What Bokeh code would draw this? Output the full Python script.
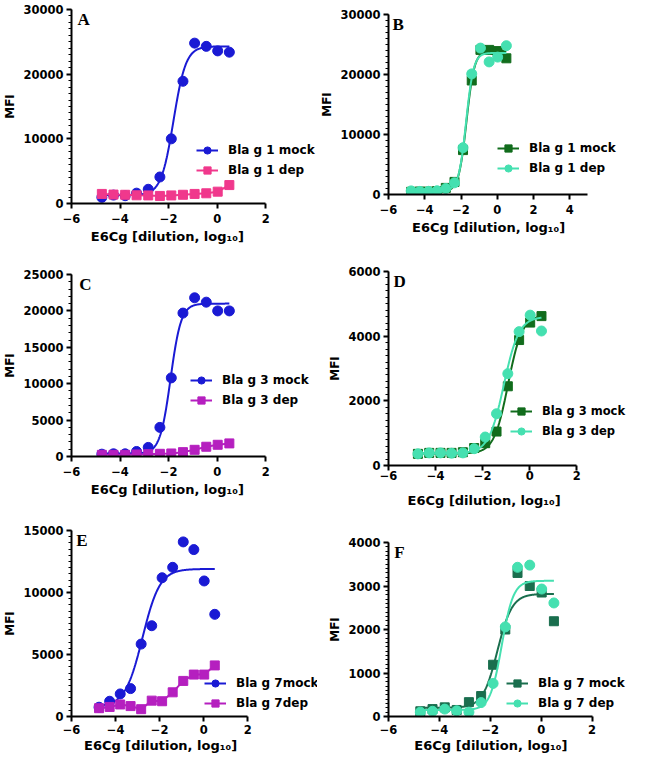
from bokeh.plotting import figure
from bokeh.layouts import row, column
from bokeh.models import Range1d, SingleIntervalTicker, Legend, LegendItem, Label
from bokeh.embed import file_html
from bokeh.resources import INLINE
import numpy as np

# ---------------- data ----------------
x_dil = [-4.75, -4.27, -3.79, -3.32, -2.84, -2.36, -1.89, -1.41, -0.93, -0.45, 0.02, 0.50]

a_mock = [950, 1300, 1200, 1600, 2200, 4100, 10000, 18900, 24800, 24300, 23600, 23400]
a_dep = [1480, 1380, 1350, 1270, 1250, 1170, 1250, 1350, 1480, 1580, 1830, 2850]
b_mock = [450, 500, 480, 560, 1100, 2100, 7400, 19000, 24100, 24100, 23900, 22700]
b_dep = [600, 520, 530, 620, 1000, 1950, 7800, 20100, 24400, 22100, 22900, 24800]
c_mock = [320, 370, 370, 690, 1250, 4000, 10800, 19700, 21800, 21200, 20000, 20000]
c_dep = [230, 230, 230, 280, 320, 370, 415, 600, 920, 1340, 1610, 1800]
d_mock = [360, 390, 390, 390, 410, 540, 690, 1050, 2450, 3880, 4420, 4620]
d_dep = [360, 390, 390, 380, 390, 520, 880, 1600, 2840, 4140, 4650, 4160]
e_mock = [750, 1230, 1820, 2250, 5840, 7320, 11190, 12030, 14080, 13460, 10930, 8240]
e_dep = [670, 770, 970, 840, 590, 1280, 1230, 1950, 2870, 3380, 3380, 4120]
f_mock = [120, 170, 210, 150, 330, 470, 1190, 2000, 3300, 3000, 2850, 2190]
f_dep = [100, 120, 170, 130, 100, 320, 760, 2060, 3430, 3480, 2930, 2610]

# fitted 4-parameter logistic curves: bottom, top, logEC50, hill slope
fit_a_mock = [1300, 24300, -1.80, 1.7]
fit_b_mock = [500, 23900, -1.70, 2.0]
fit_b_dep = [650, 23600, -1.72, 2.1]
fit_c_mock = [400, 21000, -1.92, 2.0]
fit_d_mock = [370, 4650, -0.92, 1.45]
fit_d_dep = [380, 4600, -1.10, 1.35]
fit_e_mock = [800, 11900, -2.78, 1.1]
fit_f_mock = [200, 2820, -1.72, 1.5]
fit_f_dep = [150, 3120, -1.55, 1.9]

labels_a = ["Bla g 1 mock", "Bla g 1 dep"]
labels_b = ["Bla g 1 mock", "Bla g 1 dep"]
labels_c = ["Bla g 3 mock", "Bla g 3 dep"]
labels_d = ["Bla g 3 mock", "Bla g 3 dep"]
labels_e = ["Bla g 7mock", "Bla g 7dep"]
labels_f = ["Bla g 7 mock", "Bla g 7 dep"]

x_title = "E6Cg [dilution, log\u2081\u2080]"
y_title = "MFI"

BLUE = "#1a1ad4"
PINK = "#f0388c"
PURPLE = "#b51fbf"
DKGREEN = "#116c1c"
LTGREEN = "#45e0b0"
TEAL = "#1a6e4e"

FONT = "DejaVu Sans"
NBSP = "\u00a0"


def four_pl(p, xs):
    b, t, l, h = p
    return b + (t - b) / (1.0 + 10 ** ((l - xs) * h))


def make_panel(letter, letter_x, w, h, xr, xbounds, yr, yint, nminor, top,
               mock, dep, fits, colors, markers, labels, legend_loc,
               pad, standoffs, legend_size="12px"):
    p = figure(width=w, height=h, x_range=Range1d(*xr), y_range=Range1d(*yr),
               output_backend="svg", toolbar_location=None,
               min_border_top=top, min_border_right=0,
               min_border_bottom=10, min_border_left=0)
    p.outline_line_color = None
    p.grid.visible = False
    p.background_fill_color = "white"
    p.border_fill_color = "white"

    p.xaxis.ticker = SingleIntervalTicker(interval=2, num_minor_ticks=0)
    p.yaxis.ticker = SingleIntervalTicker(interval=yint, num_minor_ticks=nminor)
    p.xaxis.bounds = xbounds
    for ax in [p.xaxis[0], p.yaxis[0]]:
        ax.axis_line_width = 2
        ax.axis_line_color = "black"
        ax.major_tick_line_width = 2
        ax.major_tick_in = 0
        ax.major_tick_out = 5
        ax.minor_tick_in = 0
        ax.minor_tick_out = 3
        ax.minor_tick_line_width = 1.2
        ax.major_label_text_font = FONT
        ax.major_label_text_font_style = "bold"
        ax.major_label_text_font_size = "11.5px"
        ax.major_label_text_color = "black"
        ax.axis_label_text_font = FONT
        ax.axis_label_text_font_style = "bold"
        ax.axis_label_text_color = "black"
    p.xaxis.minor_tick_line_color = None
    p.xaxis.major_label_standoff = standoffs[0]
    p.yaxis.major_label_standoff = 3
    # title centred under the bounded (drawn) part of the x axis
    p.xaxis.axis_label = x_title + NBSP * pad
    p.xaxis.axis_label_text_font_size = "13px"
    p.xaxis.axis_label_standoff = standoffs[1]
    p.yaxis.axis_label = y_title
    p.yaxis.axis_label_text_font_size = "12px"
    p.yaxis.axis_label_standoff = 3

    xs = np.array(x_dil)
    xfine = np.linspace(x_dil[0], x_dil[-1], 300)
    items = []
    series = [mock, dep]
    for i in range(2):
        c = colors[i]
        if fits[i] is not None:
            lr = p.line(xfine, four_pl(fits[i], xfine), line_color=c, line_width=2)
        else:
            lr = p.line(xs, series[i], line_color=c, line_width=2)
        sz = 10 if markers[i] == "circle" else 9
        sr = p.scatter(xs, series[i], marker=markers[i], size=sz,
                       fill_color=c, line_color=c)
        items.append(LegendItem(label=labels[i], renderers=[lr, sr]))

    leg = Legend(items=items, location=legend_loc, orientation="vertical",
                 border_line_color=None, background_fill_alpha=0,
                 padding=0, margin=0, spacing=2, glyph_width=22, glyph_height=18,
                 label_standoff=10, label_text_font=FONT,
                 label_text_font_style="bold", label_text_font_size=legend_size,
                 label_text_color="black")
    p.add_layout(leg)

    p.add_layout(Label(x=letter_x, y=yr[1], text=letter,
                       text_baseline="top", text_font="Liberation Serif",
                       text_font_style="bold", text_font_size="17px",
                       text_color="black"))
    return p


pa = make_panel("A", -5.75, 317, 246, (-6, 4.13), (-6, 2), (0, 30000), 10000, 10, 9,
                a_mock, a_dep, [fit_a_mock, None], [BLUE, PINK],
                ["circle", "square"], labels_a, (125, 24), 12, (5, 3))
pc = make_panel("C", -5.68, 317, 253, (-6, 4.13), (-6, 2), (0, 25000), 5000, 5, 28,
                c_mock, c_dep, [fit_c_mock, None], [BLUE, PURPLE],
                ["circle", "square"], labels_c, (119, 47), 12, (5, 3))
pe = make_panel("E", -5.78, 317, 256, (-6, 5.16), (-6, 2), (0, 15000), 5000, 10, 31,
                e_mock, e_dep, [fit_e_mock, None], [BLUE, PURPLE],
                ["circle", "square"], labels_e, (133, 4), 15, (3, 1))
pb = make_panel("B", -5.78, 312, 237, (-6, 7.29), (-6, 5), (0, 30000), 10000, 10, 14,
                b_mock, b_dep, [fit_b_mock, fit_b_dep], [DKGREEN, LTGREEN],
                ["square", "circle"], labels_b, (109, 17), 9, (5, 3))
pd = make_panel("D", -5.79, 312, 273, (-6, 4.24), (-6, 2), (0, 6000), 2000, 10, 34,
                d_mock, d_dep, [fit_d_mock, fit_d_dep], [DKGREEN, LTGREEN],
                ["square", "circle"], labels_d, (122, 25), 11, (0, 10),
                legend_size="11.5px")
pf = make_panel("F", -5.77, 312, 245, (-6, 3.47), (-6, 2), (0, 4000), 1000, 10, 32,
                f_mock, f_dep, [fit_f_mock, fit_f_dep], [TEAL, LTGREEN],
                ["square", "circle"], labels_f, (118, 4), 8, (3, 1))

layout = row(column(pa, pc, pe, spacing=0), column(pb, pd, pf, spacing=0), spacing=0)

open("out.html", "w").write(file_html(layout, INLINE))
